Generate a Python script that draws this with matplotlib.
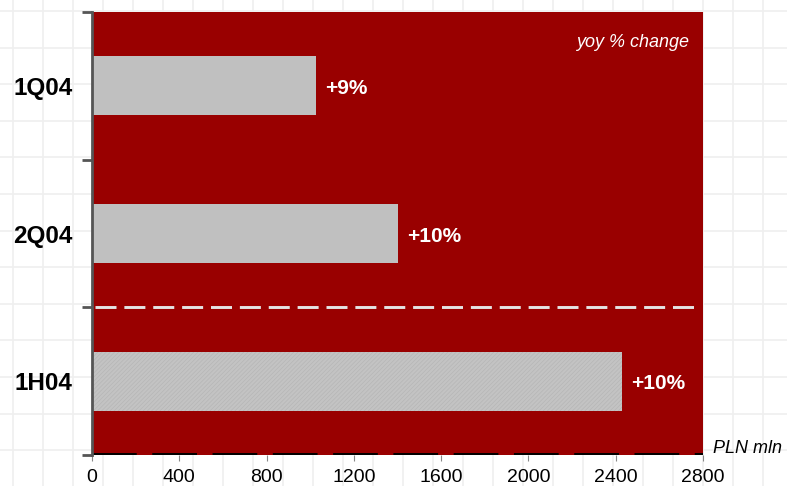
import numpy as np
import matplotlib
matplotlib.use("Agg")
import matplotlib.pyplot as plt

plt.rcParams['font.family'] = ['Liberation Sans', 'DejaVu Sans']
plt.rcParams['hatch.linewidth'] = 0.5

periods = ["1Q04", "2Q04", "1H04"]
revenue = [1025, 1400, 2428]          # PLN mln
yoy = ["+9%", "+10%", "+10%"]
xticks = [0, 400, 800, 1200, 1600, 2000, 2400, 2800]

W, H = 787, 486
fig = plt.figure(figsize=(W / 100, H / 100), dpi=100)

# faint squared-paper background
bg = fig.add_axes([0, 0, 1, 1], zorder=-1)
bg.set_xlim(0, W)
bg.set_ylim(H, 0)
bg.axis("off")
for gx in np.arange(13, W, 30):
    bg.axvline(gx, color="#efefef", lw=1.2)
for gy in np.arange(11, H, 36.6):
    bg.axhline(gy, color="#efefef", lw=1.2)

ax = fig.add_axes([92 / W, 31 / H, 611 / W, 443 / H])
ax.set_facecolor("#990000")

y = np.arange(len(periods))
colors = ["#c0c0c0", "#c0c0c0", "#c3c3c3"]
bars = ax.barh(y, revenue, height=0.4, color=colors, zorder=2)
bars[2].set_hatch("////////")
bars[2].set_edgecolor("#b6b6b6")
bars[2].set_linewidth(0)

for b, lab in zip(bars, yoy):
    ax.annotate(lab, (b.get_width(), b.get_y() + b.get_height() / 2),
                xytext=(7, -2), textcoords="offset points",
                ha="left", va="center", color="white",
                fontsize=15, fontweight="bold")

# separator between quarters and half-year
ax.axhline(1.5, xmin=0.005, xmax=0.985, color="#e4e4e4", lw=2.1,
           dashes=(7.2, 2.7), zorder=3)

# dashed baseline drawn just inside the plot area
ax.plot([0, 1], [0.003, 0.003], transform=ax.transAxes, color="black",
        lw=1.4, dashes=(23, 8), zorder=3, clip_on=False)

ax.set_xlim(0, 2800)
ax.set_ylim(2.5, -0.5)

ax.set_xticks(xticks)
ax.tick_params(axis="x", length=4, color="#888888", labelsize=14, pad=6)

ax.set_yticks([-0.5, 0.5, 1.5, 2.5])
ax.set_yticklabels([])
ax.tick_params(axis="y", which="major", length=7, width=2, color="#555555")
ax.set_yticks(y, periods, minor=True)
ax.tick_params(axis="y", which="minor", length=0, pad=14, labelsize=17.5)
for t in ax.get_yticklabels(minor=True):
    t.set_fontweight("bold")

ax.spines["top"].set_visible(False)
ax.spines["right"].set_visible(False)
ax.spines["bottom"].set_visible(False)
ax.spines["left"].set_color("#555555")
ax.spines["left"].set_linewidth(2)
ax.spines["left"].set_zorder(4)

ax.text(0.977, 0.932, "yoy % change", transform=ax.transAxes,
        ha="right", va="center", color="white", fontsize=13, style="italic")
fig.text(713 / W, 1 - 448 / H, "PLN mln", ha="left", va="center",
         color="black", fontsize=13, style="italic")

fig.savefig("out.png", dpi=100)
